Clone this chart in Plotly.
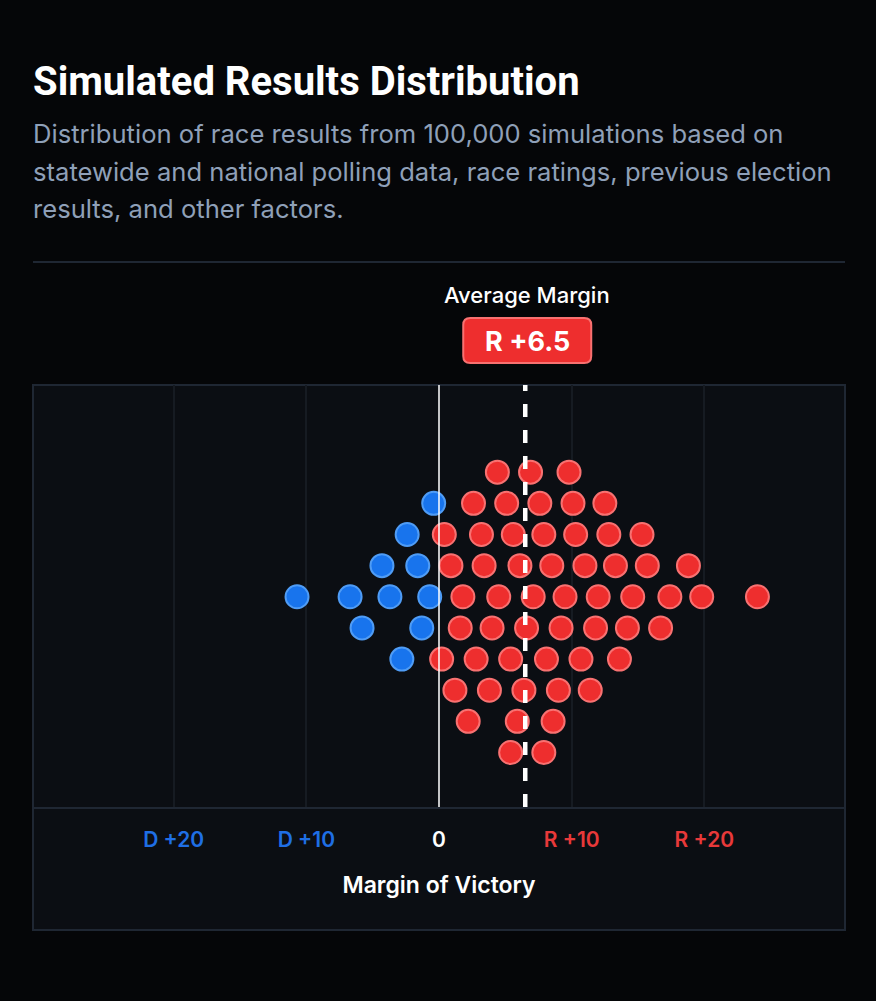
import plotly.graph_objects as go

# ---------------- data ----------------
avg_margin = 6.5
tick_vals = [-20, -10, 0, 10, 20]
tick_labels = ["D +20", "D +10", "0", "R +10", "R +20"]
tick_colors = ["#1f6fe5", "#1f6fe5", "#ffffff", "#e8393a", "#e8393a"]

# simulated race margins (negative = D, positive = R) and their stack position
margins = [
    4.4, 6.9, 9.8,
    -0.4, 2.6, 5.1, 7.6, 10.1, 12.5,
    -2.4, 0.4, 3.2, 5.6, 7.9, 10.3, 12.8, 15.3,
    -4.3, -1.6, 0.9, 3.4, 6.1, 8.5, 11.0, 13.3, 15.7, 18.8,
    -10.7, -6.7, -3.7, -0.7, 1.8, 4.5, 7.1, 9.5, 12.0, 14.6, 17.4, 19.8, 24.0,
    -5.8, -1.3, 1.6, 4.0, 6.6, 9.2, 11.8, 14.2, 16.7,
    -2.8, 0.2, 2.8, 5.4, 8.1, 10.7, 13.6,
    1.2, 3.8, 6.4, 9.0, 11.4,
    2.2, 5.9, 8.6,
    5.4, 7.9,
]
stack = (
    [4] * 3 + [3] * 6 + [2] * 8 + [1] * 10 + [0] * 13
    + [-1] * 9 + [-2] * 7 + [-3] * 5 + [-4] * 3 + [-5] * 2
)

title_text = "Simulated Results Distribution"
subtitle_lines = [
    "Distribution of race results from 100,000 simulations based on",
    "statewide and national polling data, race ratings, previous election",
    "results, and other factors.",
]

# ---------------- layout constants ----------------
W, H = 876, 1001
L, R, T, B = 33, 31, 385, 194
X_RANGE = [-30.6, 30.6]
Y_RANGE = [-6.75, 6.8]
plot_h = H - T - B
plot_w = W - L - R


def py(p):  # pixel row -> paper y
    return (H - B - p) / plot_h


FONT = "Inter"
RED, RED_EDGE = "#ee2e2e", "#f87171"
BLUE, BLUE_EDGE = "#1874ed", "#4f9cf5"

dem_x = [m for m in margins if m < 0]
dem_y = [s for m, s in zip(margins, stack) if m < 0]
rep_x = [m for m in margins if m >= 0]
rep_y = [s for m, s in zip(margins, stack) if m >= 0]

fig = go.Figure()
fig.add_trace(go.Scatter(
    x=dem_x, y=dem_y, mode="markers", hoverinfo="x",
    marker=dict(size=23, color=BLUE, line=dict(color=BLUE_EDGE, width=2)),
))
fig.add_trace(go.Scatter(
    x=rep_x, y=rep_y, mode="markers", hoverinfo="x",
    marker=dict(size=23, color=RED, line=dict(color=RED_EDGE, width=2)),
))

shapes = [
    # chart panel background + border
    dict(type="rect", xref="paper", yref="paper", x0=0, x1=1,
         y0=py(930), y1=1, fillcolor="#0b0e13",
         line=dict(color="#1f2733", width=2), layer="below"),
    # separator under the subtitle
    dict(type="line", xref="paper", yref="paper", x0=0, x1=1,
         y0=py(262), y1=py(262), line=dict(color="#1f2733", width=2)),
    # zero line
    dict(type="line", xref="x", yref="paper", x0=0, x1=0, y0=0, y1=1,
         line=dict(color="#ffffff", width=1.5), layer="above"),
    # average margin dashed line
    dict(type="line", xref="x", yref="paper", x0=avg_margin, x1=avg_margin,
         y0=0, y1=1, line=dict(color="#ffffff", width=4.5, dash="13px,13px"),
         layer="above"),
]

# rounded badge
bx0, bx1, by0, by1, rr = -62, 66, -22.5, 22.5, 7
badge_path = (
    f"M {bx0+rr},{by0} L {bx1-rr},{by0} Q {bx1},{by0} {bx1},{by0+rr} "
    f"L {bx1},{by1-rr} Q {bx1},{by1} {bx1-rr},{by1} L {bx0+rr},{by1} "
    f"Q {bx0},{by1} {bx0},{by1-rr} L {bx0},{by0+rr} Q {bx0},{by0} {bx0+rr},{by0} Z"
)
avg_paper_x = (avg_margin - X_RANGE[0]) / (X_RANGE[1] - X_RANGE[0])
shapes.append(dict(
    type="path", path=badge_path, xref="paper", yref="paper",
    xsizemode="pixel", ysizemode="pixel",
    xanchor=avg_paper_x, yanchor=py(340.5),
    fillcolor=RED, line=dict(color=RED_EDGE, width=2),
))

annotations = [
    dict(text="Average Margin", x=avg_margin, xref="x", y=py(295), yref="paper",
         showarrow=False, xanchor="center", yanchor="middle", xshift=2,
         font=dict(family=FONT, size=22, color="#ffffff", weight=500)),
    dict(text=f"R +{avg_margin}", x=avg_margin, xref="x", y=py(341), yref="paper",
         showarrow=False, xanchor="center", yanchor="middle", xshift=2,
         font=dict(family=FONT, size=27, color="#ffffff", weight=700)),
]
for i, (line, yc) in enumerate(zip(subtitle_lines, [134, 171, 209])):
    annotations.append(dict(
        text=line, x=0, xref="paper", y=py(yc), yref="paper",
        showarrow=False, xanchor="left", yanchor="middle", xshift=-2,
        font=dict(family=FONT, size=25.6, color="#8fa0b8", weight=400),
    ))

fig.update_layout(
    width=W, height=H,
    margin=dict(l=L, r=R, t=T, b=B, pad=0),
    paper_bgcolor="#050608",
    plot_bgcolor="rgba(0,0,0,0)",
    showlegend=False,
    title=dict(text=title_text, x=L / W, y=1 - 81 / H, xref="container",
               yref="container", xanchor="left", yanchor="middle",
               font=dict(family="Roboto", size=40, color="#ffffff", weight=700)),
    xaxis=dict(
        range=X_RANGE, tickvals=tick_vals,
        ticktext=[f'<span style="color:{c}">{t}</span>' for t, c in zip(tick_labels, tick_colors)],
        tickfont=dict(family=FONT, size=21, color="#ffffff", weight=600),
        ticks="", ticklabelstandoff=13,
        showgrid=True, gridcolor="#161b22", gridwidth=2,
        zeroline=False, showline=True, linecolor="#1f2733", linewidth=2,
        title=dict(text="Margin of Victory", standoff=26,
                   font=dict(family=FONT, size=23, color="#ffffff", weight=600)),
        fixedrange=True,
    ),
    yaxis=dict(range=Y_RANGE, visible=False, fixedrange=True),
    shapes=shapes,
    annotations=annotations,
)

fig.write_html("out.html")
